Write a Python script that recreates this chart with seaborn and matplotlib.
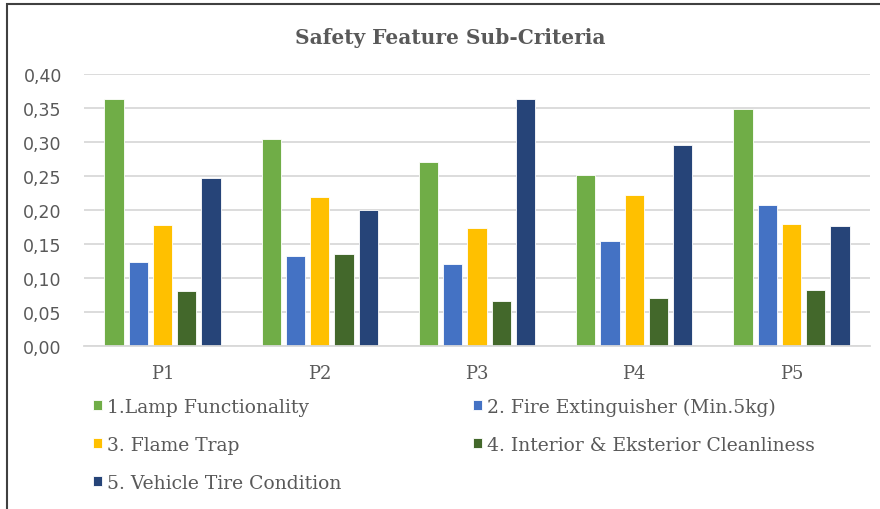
import matplotlib
matplotlib.use("Agg")
import matplotlib.pyplot as plt
import pandas as pd
import seaborn as sns
from matplotlib.patches import Rectangle
from matplotlib.ticker import FuncFormatter, MultipleLocator

categories = ["P1", "P2", "P3", "P4", "P5"]
series_names = [
    "1.Lamp Functionality",
    "2. Fire Extinguisher (Min.5kg)",
    "3. Flame Trap",
    "4. Interior & Eksterior Cleanliness",
    "5. Vehicle Tire Condition",
]
lamp = [0.363, 0.305, 0.270, 0.251, 0.348]
extinguisher = [0.123, 0.133, 0.121, 0.154, 0.207]
flame_trap = [0.178, 0.219, 0.173, 0.222, 0.179]
cleanliness = [0.081, 0.136, 0.066, 0.071, 0.083]
tire = [0.247, 0.200, 0.363, 0.295, 0.176]
colors = ["#70AD47", "#4472C4", "#FFC000", "#43682B", "#264478"]

values = [lamp, extinguisher, flame_trap, cleanliness, tire]
rows = []
for name, vals in zip(series_names, values):
    for cat, v in zip(categories, vals):
        rows.append({"category": cat, "series": name, "value": v})
df = pd.DataFrame(rows)

sns.set_style("white")
plt.rcParams["font.family"] = ["DejaVu Serif"]

fig = plt.figure(figsize=(8.8, 5.1), dpi=100)
ax = fig.add_axes([84 / 880, 1 - 347 / 510, 786 / 880, 272 / 510])

sns.barplot(data=df, x="category", y="value", hue="series", palette=colors,
            hue_order=series_names, order=categories, width=0.77, gap=0.2,
            saturation=1, edgecolor="white", linewidth=0.6, ax=ax, legend=True)

ax.set_ylim(0, 0.40)
ax.yaxis.set_major_locator(MultipleLocator(0.05))
ax.yaxis.set_major_formatter(FuncFormatter(lambda v, _: f"{v:.2f}".replace(".", ",")))
ax.grid(axis="y", color="#D9D9D9", linewidth=1.3)
ax.set_axisbelow(True)
for side in ["top", "right", "left"]:
    ax.spines[side].set_visible(False)
ax.spines["bottom"].set_color("#D9D9D9")
ax.spines["bottom"].set_linewidth(1.3)
ax.set_xlabel("")
ax.set_ylabel("")
ax.tick_params(axis="y", length=0, labelsize=12.5, labelcolor="#595959", pad=16)
ax.tick_params(axis="x", length=0, labelsize=13, labelcolor="#595959", pad=13)
for lbl in ax.get_yticklabels():
    lbl.set_fontfamily("DejaVu Sans")

handles, labels = ax.get_legend_handles_labels()
ax.get_legend().remove()
order = [0, 2, 4, 1, 3]
fig.legend([handles[i] for i in order], [labels[i] for i in order],
           loc="upper left", bbox_to_anchor=(84 / 880, 1 - 389 / 510), ncol=2,
           frameon=False, prop={"family": "DejaVu Serif", "size": 13.5},
           labelcolor="#595959", handlelength=0.45, handleheight=0.45,
           handletextpad=0.3, labelspacing=1.08, columnspacing=7.0,
           borderpad=0)

fig.text(450 / 880, 1 - 38 / 510, "Safety Feature Sub-Criteria", ha="center", va="center",
         fontsize=14.5, fontweight="bold", color="#595959")

fig.patches.append(Rectangle((7 / 880, -0.05), 1.2, 1 - 5 / 510 + 0.05, transform=fig.transFigure,
                             fill=False, edgecolor="#404040", linewidth=1.5))

fig.savefig("out.png", dpi=100)
